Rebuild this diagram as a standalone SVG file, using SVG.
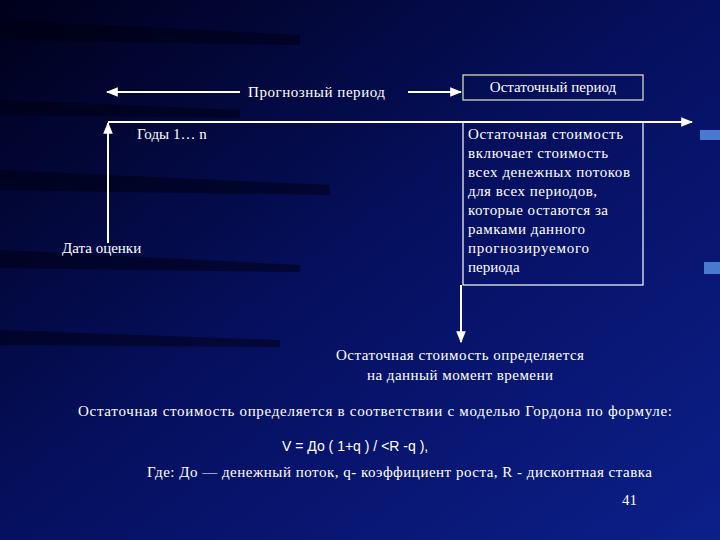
<svg xmlns="http://www.w3.org/2000/svg" width="720" height="540" viewBox="0 0 720 540">
<defs>
<linearGradient id="bg" x1="0" y1="0" x2="1" y2="1">
<stop offset="0" stop-color="#00001a"/><stop offset="0.5" stop-color="#061060"/><stop offset="1" stop-color="#0c1f8a"/>
</linearGradient>
<marker id="ah" viewBox="0 0 10 10" refX="9" refY="5" markerWidth="6" markerHeight="6" orient="auto-start-reverse"><path d="M0,1 L10,5 L0,9 Z" fill="#fff"/></marker>
<style>
.s{font-family:"Liberation Serif",serif;font-size:15px;fill:#fff}
.a{font-family:"Liberation Sans",sans-serif;font-size:14px;fill:#fff}
.ln{stroke:#fff;stroke-width:2;fill:none}
</style>
</defs>
<rect width="720" height="540" fill="url(#bg)"/>
<g opacity="0.5" fill="#000010">
<path d="M0,20 L300,35 L300,45 L0,40Z"/><path d="M0,100 L240,110 L240,118 L0,115Z"/><path d="M0,170 L330,185 L330,195 L0,190Z"/><path d="M0,250 L300,265 L300,272 L0,268Z"/><path d="M0,330 L280,340 L280,347 L0,345Z"/>
</g>
<rect x="700" y="130" width="20" height="10" fill="#4a7ad0"/>
<rect x="704" y="262" width="16" height="12" fill="#4a7ad0"/>
<g id="connectors">
<line class="ln" x1="240" y1="92" x2="107" y2="92" marker-end="url(#ah)"/>
<line class="ln" x1="408" y1="92" x2="461" y2="92" marker-end="url(#ah)"/>
<line class="ln" x1="108" y1="122" x2="692" y2="122" marker-end="url(#ah)"/>
<line class="ln" x1="108" y1="243" x2="108" y2="123" marker-end="url(#ah)"/>
<line class="ln" x1="461" y1="285" x2="461" y2="342" marker-end="url(#ah)"/>
</g>
<g id="forecast"><text class="s" x="248" y="97" textLength="137">Прогнозный период</text></g>
<g id="residual-period">
<rect x="463" y="75" width="180" height="25" fill="none" stroke="#e8e8c0" stroke-width="1.2"/>
<text class="s" x="553" y="92" text-anchor="middle">Остаточный период</text>
</g>
<g id="years"><text class="s" x="137" y="139">Годы  1… n</text></g>
<g id="date"><text class="s" x="62" y="253">Дата оценки</text></g>
<g id="residual-value">
<rect x="463" y="122" width="180" height="163" fill="none" stroke="#fff" stroke-width="1.2"/>
<text class="s" x="468" y="139" textLength="155">Остаточная стоимость</text>
<text class="s" x="468" y="158" textLength="140">включает стоимость</text>
<text class="s" x="468" y="177" textLength="162">всех денежных потоков</text>
<text class="s" x="468" y="196" textLength="129">для всех периодов,</text>
<text class="s" x="468" y="215" textLength="140">которые остаются за</text>
<text class="s" x="468" y="234" textLength="117">рамками данного</text>
<text class="s" x="468" y="253" textLength="121">прогнозируемого</text>
<text class="s" x="468" y="272">периода</text>
</g>
<g id="moment">
<text class="s" x="460" y="360" text-anchor="middle" textLength="248">Остаточная стоимость определяется</text>
<text class="s" x="460" y="380" text-anchor="middle" textLength="186">на данный момент времени</text>
</g>
<g id="gordon"><text class="s" x="78" y="416" textLength="594">Остаточная стоимость определяется в соответствии с моделью Гордона по формуле:</text></g>
<g id="formula"><text class="a" x="282" y="451">V = До ( 1+q ) / &lt;R -q ),</text></g>
<g id="legend"><text class="s" x="147" y="477" textLength="505">Где: До — денежный поток, q- коэффициент роста, R - дисконтная ставка</text></g>
<text class="s" x="622" y="505" font-size="11">41</text>
</svg>
